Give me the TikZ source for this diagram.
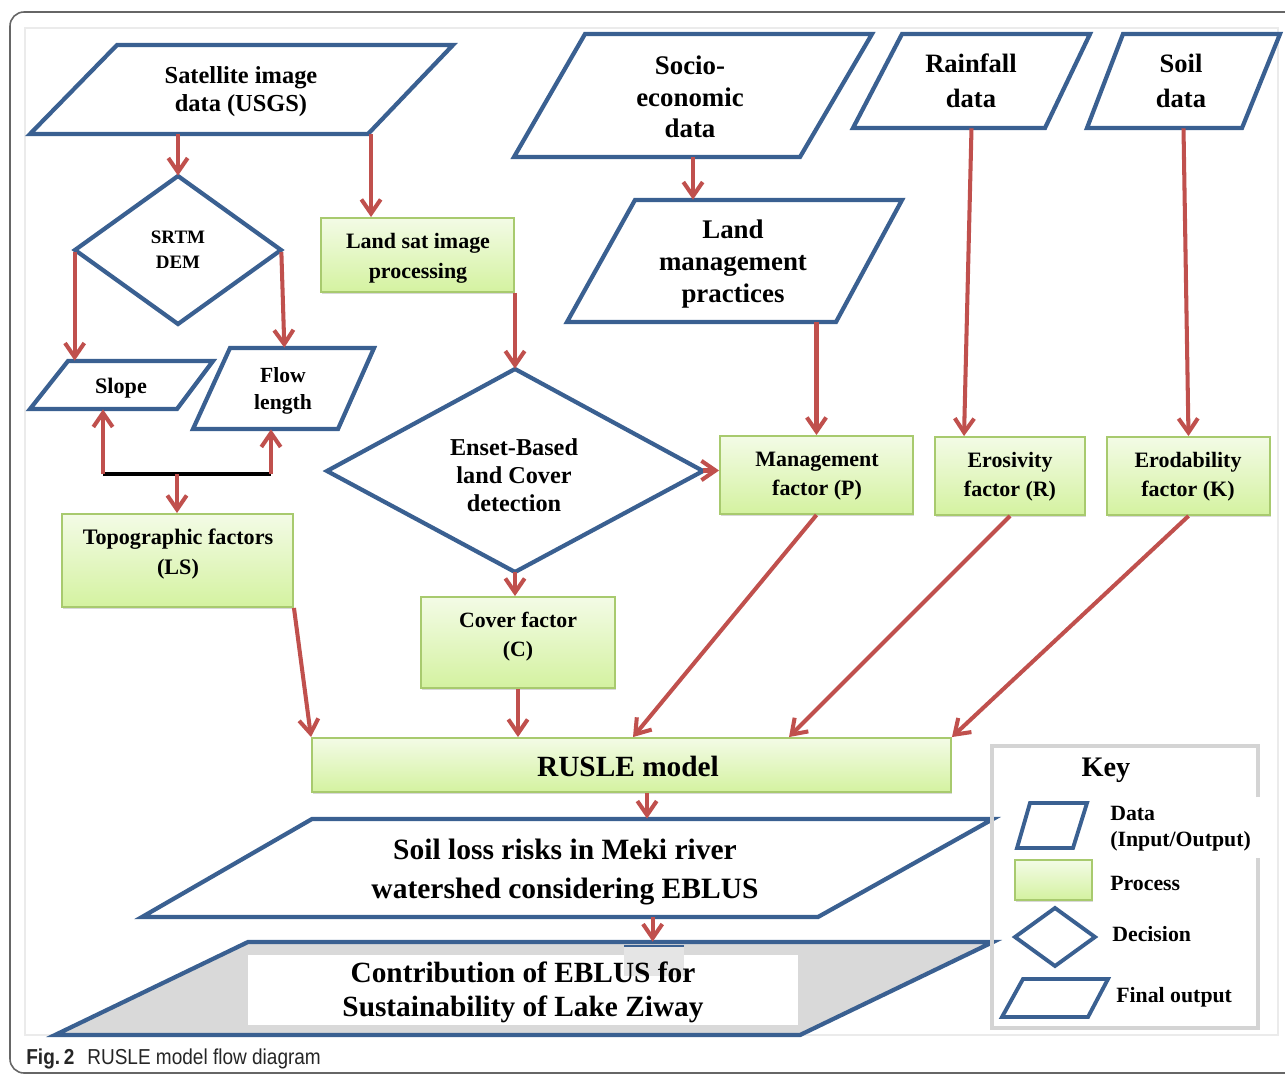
\documentclass[tikz,border=0pt]{standalone}
\usepackage{fontspec}
\setmainfont{Liberation Serif}
\newfontfamily\capfont[FakeStretch=0.88]{Liberation Sans}
\usetikzlibrary{arrows.meta,shadows,fit,calc}
\definecolor{bl}{RGB}{58,96,145}
\definecolor{rd}{RGB}{192,80,77}
\definecolor{gtop}{RGB}{243,251,230}
\definecolor{gbot}{RGB}{212,242,160}
\definecolor{gdraw}{RGB}{168,202,110}
\definecolor{keygray}{RGB}{212,212,212}
\definecolor{finalgray}{RGB}{217,217,217}
\newcommand\myfs[2]{\fontsize{#1}{#2}\selectfont\bfseries}
\begin{document}
\begin{tikzpicture}[x=0.02cm,y=-0.02cm,
  shp/.style={draw=bl, line width=2.4pt, line join=miter, fill=white},
  arr/.style={draw=rd, line width=2.3pt, -{Straight Barb[length=8pt,width=11pt]}},
  proc/.style={draw=gdraw, line width=1.1pt, top color=gtop, bottom color=gbot,
    drop shadow={shadow xshift=0.7pt,shadow yshift=-1.3pt,opacity=0.3}, inner sep=0pt},
  box/.style={inner sep=0pt, align=center},
  keytxt/.style={anchor=west, align=left, inner sep=0pt, font=\myfs{12.4}{14.7}}]
\useasboundingbox (0,0) rectangle (1285,1075);
\clip (0,0) rectangle (1285,1075);
\fill[white] (0,0) rectangle (1285,1075);
% frames
\draw[black!60, line width=0.9pt, rounded corners=8pt] (10,12) rectangle (1320,1073);
\draw[black!8, line width=1pt] (25,28) rectangle (1278,1035);
\node[anchor=base west, inner sep=0pt, font=\capfont\fontsize{12.3}{14}\selectfont, text=black!85] (cap) at (26,1064) {\textbf{Fig.\,2}\hspace{0.6em}RUSLE model flow diagram};

% ---- data shapes ----
\draw[shp] (117,45) -- (453,45) -- (368,134) -- (30,134) -- cycle;
\node[box, fit={(30,45) (453,134)}] (sat) {};
\node[box, font=\myfs{13.9}{16}] (sat-t) at (241,92) {Satellite image\\data (USGS)};

\draw[shp] (178,176) -- (281,250) -- (178,324) -- (75,250) -- cycle;
\node[box, fit={(75,176) (281,324)}] (srtm) {};
\node[box, font=\myfs{10.8}{14}] (srtm-t) at (178,250) {SRTM\\DEM};

\draw[shp] (68,361) -- (213,361) -- (177,409) -- (30,409) -- cycle;
\node[box, fit={(30,361) (213,409)}] (slope) {};
\node[box, font=\myfs{12.6}{15}] (slope-t) at (121,388) {Slope};

\draw[shp] (230,348) -- (374,348) -- (338,429) -- (193,429) -- cycle;
\node[box, fit={(193,348) (374,429)}] (flow) {};
\node[box, font=\myfs{12.3}{15.3}] (flow-t) at (283,391) {Flow\\length};

\draw[shp] (515,369) -- (703,471) -- (515,572) -- (327,471) -- cycle;
\node[box, fit={(327,369) (703,572)}] (enset) {};
\node[box, font=\myfs{13.8}{15.9}] (enset-t) at (514,475) {Enset-Based\\land Cover\\detection};

\draw[shp] (585,34) -- (872,34) -- (800,157) -- (514,157) -- cycle;
\node[box, fit={(514,34) (872,157)}] (socio) {};
\node[box, font=\myfs{15.3}{17.9}] (socio-t) at (690,97) {Socio-\\economic\\data};

\draw[shp] (635,200) -- (902,200) -- (836,322) -- (567,322) -- cycle;
\node[box, fit={(567,200) (902,322)}] (landmgmt) {};
\node[box, font=\myfs{15.3}{18}] (landmgmt-t) at (733,264) {Land\\management\\practices};

\draw[shp] (902,34) -- (1090,34) -- (1045,128) -- (853,128) -- cycle;
\node[box, fit={(853,34) (1090,128)}] (rain) {};
\node[box, font=\myfs{15.1}{19.8}] (rain-t) at (971,81) {Rainfall\\data};

\draw[shp] (1123,34) -- (1280,34) -- (1242,128) -- (1087,128) -- cycle;
\node[box, fit={(1087,34) (1280,128)}] (soil) {};
\node[box, font=\myfs{15.1}{19.8}] (soil-t) at (1181,81) {Soil\\data};

\draw[shp] (312,819) -- (993,819) -- (818,917) -- (142,917) -- cycle;
\node[box, fit={(142,819) (993,917)}] (soilloss) {};
\node[box, font=\myfs{16.8}{22}] (soilloss-t) at (565,872) {Soil loss risks in Meki river\\watershed considering EBLUS};

% final output
\fill[finalgray] (248,942) -- (993,942) -- (800,1035) -- (55,1035) -- cycle;
\fill[white] (248,955) rectangle (798,1025);
\fill[black!10] (624,946) rectangle (684,976);
\draw[bl, line width=2.4pt, line join=miter] (248,942) -- (993,942) -- (800,1035) -- (55,1035) -- cycle;
\draw[bl, line width=1.5pt] (624,946) -- (684,946);
\node[box, fit={(55,942) (993,1035)}] (final) {};
\node[box, font=\myfs{16.7}{19.3}] (final-t) at (523,992) {Contribution of EBLUS for\\Sustainability of Lake Ziway};

% ---- process boxes ----
\node[proc, fit={(321,218) (514,292)}] (landsat) {};
\node[box, font=\myfs{12.5}{17}] (landsat-t) at (418,258) {Land sat image\\processing};
\node[proc, fit={(62,514) (293,607)}] (topo) {};
\node[box, font=\myfs{12.6}{17}] (topo-t) at (178,554) {Topographic factors\\(LS)};
\node[proc, fit={(421,597) (615,688)}] (cover) {};
\node[box, font=\myfs{12.4}{16.4}] (cover-t) at (518,637) {Cover factor\\(C)};
\node[proc, fit={(720,436) (913,514)}] (mgmt) {};
\node[box, font=\myfs{12.5}{16.5}] (mgmt-t) at (817,476) {Management\\factor (P)};
\node[proc, fit={(935,437) (1085,515)}] (eros) {};
\node[box, font=\myfs{12.5}{16.5}] (eros-t) at (1010,477) {Erosivity\\factor (R)};
\node[proc, fit={(1107,437) (1270,515)}] (erod) {};
\node[box, font=\myfs{12.5}{16.5}] (erod-t) at (1188,477) {Erodability\\factor (K)};
\node[proc, fit={(312,738) (951,792)}] (rusle) {};
\node[box, font=\myfs{16.7}{19}] (rusle-t) at (628,766) {RUSLE model};

% ---- connectors ----
\coordinate (c-ls) at ($(landsat.north west)+(51,0)$);
\coordinate (brL) at (103,474);
\coordinate (brR) at (271,474);
\coordinate (brM) at (177,474);
\coordinate (c-eros) at ($(eros.north west)+(30,0)$);
\coordinate (r1) at ($(rusle.north west)+(322,0)$);
\coordinate (r2) at ($(rusle.north west)+(478,0)$);
\coordinate (r3) at ($(rusle.south west)+(336,0)$);
\coordinate (s1) at ($(soilloss.south west)+(511,0)$);

\draw[arr] (sat.south -| srtm.north) -- (srtm.north);
\draw[arr] (c-ls |- sat.south) -- (c-ls);
\draw[arr] ($(srtm.west)+(0,2)$) -- (srtm.west |- slope.north);
\draw[arr] ($(srtm.east)+(0,2)$) -- ($(srtm.east |- flow.north)+(3,0)$);
\draw[black, line width=2.4pt] (brL) -- (brR);
\draw[arr] (brL) -- (brL |- slope.south);
\draw[arr] (brR) -- (brR |- flow.south);
\draw[arr] (brM) -- (brM |- topo.north);
\draw[arr] (landsat.south -| enset.north) -- (enset.north);
\draw[arr] (enset.east) -- (enset.east -| mgmt.west);
\draw[arr] (enset.south) -- (enset.south |- cover.north);
\draw[arr] (socio.south) -- (socio.south |- landmgmt.north);
\draw[arr] (landmgmt.south -| mgmt.north) -- (mgmt.north);
\draw[arr] (rain.south) -- (c-eros);
\draw[arr] (soil.south) -- (erod.north);
\draw[arr] (topo.south east) -- (rusle.north west);
\draw[arr] (cover.south) -- (cover.south |- rusle.north);
\draw[arr] (mgmt.south) -- (r1);
\draw[arr] (eros.south) -- (r2);
\draw[arr] (erod.south) -- (rusle.north east);
\draw[arr] (r3) -- (r3 |- soilloss.north);
\draw[arr] (s1) -- (s1 |- final.north);

% ---- key ----
\draw[keygray, line width=2.2pt] (1258,797) -- (1258,746) -- (992,746) -- (992,1028) -- (1258,1028) -- (1258,858);
\node[inner sep=0pt, font=\myfs{16.1}{19}] (key) at (1106,770) {Key};
\draw[bl, line width=2.2pt, line join=miter] (1030,803) -- (1087,803) -- (1073,848) -- (1017,848) -- cycle;
\node[keytxt] (k-data) at (1110,829) {Data\\(Input/Output)};
\node[proc, fit={(1015,860) (1092,900)}] (k-proc) {};
\node[keytxt] (k-proc-t) at (1110,883) {Process};
\draw[bl, line width=2.2pt, line join=miter] (1055,908) -- (1095,937) -- (1055,966) -- (1015,937) -- cycle;
\node[keytxt] (k-dec) at (1112,934) {Decision};
\draw[bl, line width=2.2pt, line join=miter] (1023,979) -- (1108,979) -- (1088,1017) -- (1002,1017) -- cycle;
\node[keytxt] (k-fin) at (1116,997) {Final output};
\end{tikzpicture}
\end{document}
